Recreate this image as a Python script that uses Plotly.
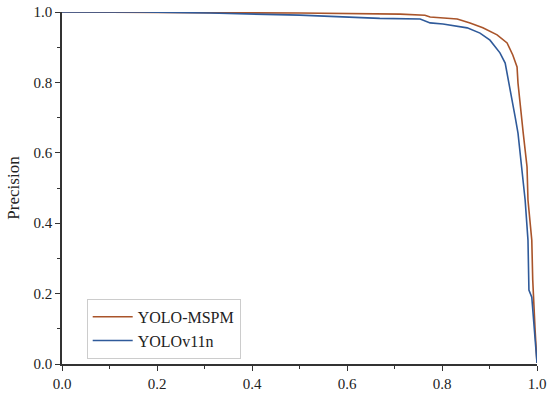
import plotly.graph_objects as go

# YOLO-MSPM PR curve (recall, precision)
mspm_recall = [0.0, 0.30, 0.50, 0.712, 0.764, 0.775, 0.832, 0.859, 0.886, 0.916, 0.937, 0.949,
               0.958, 0.960, 0.964, 0.968, 0.971, 0.979, 0.981, 0.989, 0.991, 0.996, 1.0]
mspm_precision = [1.0, 0.999, 0.997, 0.994, 0.991, 0.986, 0.980, 0.969, 0.955, 0.935, 0.912, 0.878,
                  0.844, 0.798, 0.741, 0.702, 0.656, 0.560, 0.466, 0.352, 0.239, 0.097, 0.003]

# YOLOv11n PR curve (recall, precision)
v11_recall = [0.0, 0.164, 0.312, 0.50, 0.669, 0.754, 0.775, 0.802, 0.853, 0.880, 0.901, 0.922,
              0.933, 0.937, 0.943, 0.949, 0.954, 0.960, 0.968, 0.975, 0.981, 0.983, 0.989, 1.0]
v11_precision = [1.0, 1.0, 0.997, 0.991, 0.982, 0.980, 0.969, 0.966, 0.955, 0.940, 0.920, 0.884,
                 0.855, 0.827, 0.787, 0.741, 0.702, 0.656, 0.560, 0.466, 0.352, 0.210, 0.190, 0.003]

series_names = ["YOLO-MSPM", "YOLOv11n"]
tick_vals = [0.0, 0.2, 0.4, 0.6, 0.8, 1.0]
tick_text = ["0.0", "0.2", "0.4", "0.6", "0.8", "1.0"]

font_family = "Liberation Serif"

fig = go.Figure()
fig.add_trace(go.Scatter(x=mspm_recall, y=mspm_precision, mode="lines", name=series_names[0],
                         line=dict(color="#A9542A", width=1.6)))
fig.add_trace(go.Scatter(x=v11_recall, y=v11_precision, mode="lines", name=series_names[1],
                         line=dict(color="#2F5A9A", width=1.6)))

axis_common = dict(
    range=[0, 1], showline=True, linecolor="#333333", linewidth=1.5,
    ticks="outside", ticklen=5, tickwidth=1, tickcolor="#333333",
    tickvals=tick_vals, ticktext=tick_text, showgrid=False, zeroline=False,
    tickfont=dict(family=font_family, size=15, color="#222222"),
    minor=dict(ticks="outside", ticklen=3, tickcolor="#333333", dtick=0.1, showgrid=False),
    mirror=False, automargin=False,
)

fig.update_layout(
    width=550, height=394,
    margin=dict(l=62, r=13, t=12, b=30, autoexpand=False),
    paper_bgcolor="white", plot_bgcolor="white",
    showlegend=True,
    font=dict(family=font_family),
    legend=dict(x=0.052, y=0.10, xanchor="left", yanchor="middle",
                bordercolor="#cccccc", borderwidth=1, bgcolor="rgba(255,255,255,0.9)",
                font=dict(family=font_family, size=16, color="#222222"),
                tracegroupgap=0, itemwidth=40),
    xaxis=dict(**axis_common),
    yaxis=dict(**axis_common, title=dict(text="Precision", standoff=10,
                                         font=dict(family=font_family, size=17, color="#222222"))),
)

# remove the page's default body margin so the figure sits at the window's top-left corner
fig.write_html("out.html", config={"displayModeBar": False},
               post_script="document.body.style.margin='0';")
